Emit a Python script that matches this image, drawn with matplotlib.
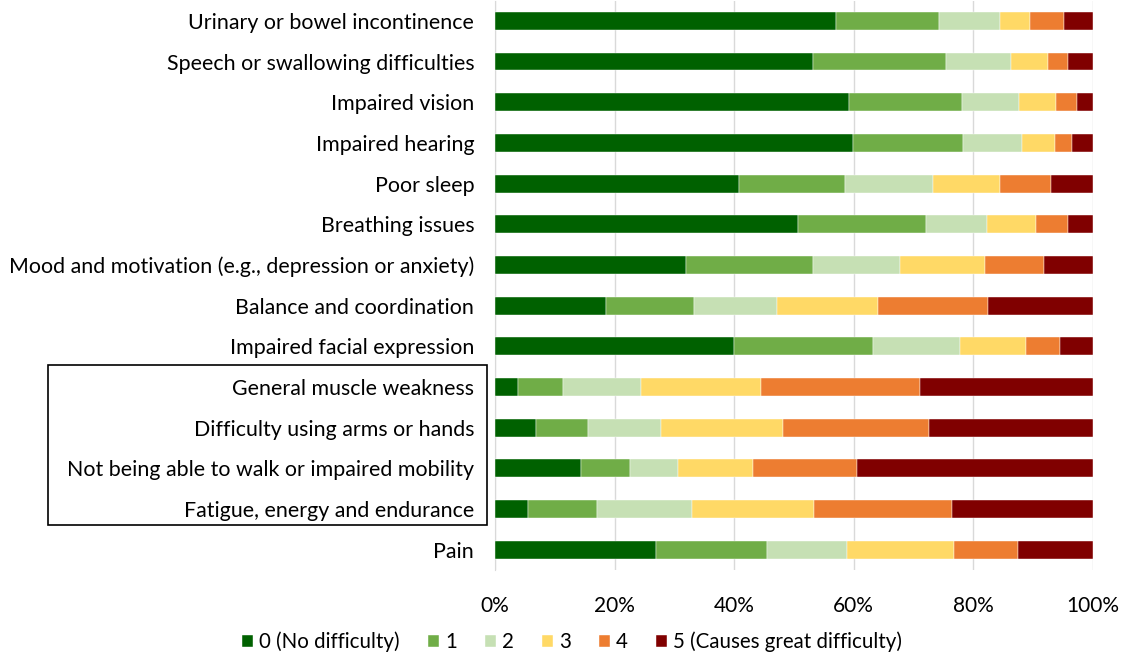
import numpy as np
import matplotlib.pyplot as plt
from matplotlib.patches import Rectangle

# -------------------- Data --------------------
categories = [
    "Urinary or bowel incontinence",
    "Speech or swallowing difficulties",
    "Impaired vision",
    "Impaired hearing",
    "Poor sleep",
    "Breathing issues",
    "Mood and motivation (e.g., depression or anxiety)",
    "Balance and coordination",
    "Impaired facial expression",
    "General muscle weakness",
    "Difficulty using arms or hands",
    "Not being able to walk or impaired mobility",
    "Fatigue, energy and endurance",
    "Pain",
]

level_0 = [57.0, 53.1, 59.2, 59.9, 40.8, 50.7, 32.0, 18.5, 40.0, 3.8, 6.8, 14.4, 5.6, 26.9]
level_1 = [17.2, 22.3, 18.9, 18.4, 17.8, 21.4, 21.1, 14.8, 23.2, 7.6, 8.8, 8.2, 11.5, 18.6]
level_2 = [10.3, 10.9, 9.6, 9.9, 14.6, 10.1, 14.6, 13.8, 14.5, 13.0, 12.2, 8.0, 15.8, 13.3]
level_3 = [4.9, 6.1, 6.1, 5.4, 11.3, 8.3, 14.2, 16.9, 11.1, 20.1, 20.3, 12.6, 20.5, 18.0]
level_4 = [5.7, 3.4, 3.6, 2.9, 8.4, 5.4, 9.9, 18.5, 5.6, 26.5, 24.4, 17.4, 23.1, 10.7]
level_5 = [4.9, 4.2, 2.6, 3.5, 7.1, 4.1, 8.2, 17.5, 5.6, 29.0, 27.5, 39.4, 23.5, 12.5]

level_labels = ["0 (No difficulty)", "1", "2", "3", "4", "5 (Causes great difficulty)"]
colors = ["#006100", "#70AD47", "#C6E0B4", "#FFD966", "#ED7D31", "#800000"]

plt.rcParams['font.family'] = ['Lato', 'DejaVu Sans']

# -------------------- Plot --------------------
fig = plt.figure(figsize=(11.26, 6.58), dpi=100)
ax = fig.add_axes([0.4396, 0.1337, 0.5311, 0.8655])

levels = [level_0, level_1, level_2, level_3, level_4, level_5]
y = np.arange(len(categories))
left = np.zeros(len(categories))
for vals, lab, col in zip(levels, level_labels, colors):
    vals = np.array(vals)
    ax.barh(y, vals, left=left, height=0.44, color=col, label=lab,
            edgecolor='white', linewidth=0.3, zorder=3)
    left += vals

ax.set_ylim(len(categories) - 0.5, -0.5)
ax.set_xlim(0, 100)
ax.set_yticks(y)
ax.set_yticklabels(categories, fontsize=15.4)
ax.set_xticks([0, 20, 40, 60, 80, 100])
ax.set_xticklabels([f"{v}%" for v in [0, 20, 40, 60, 80, 100]], fontsize=15)
ax.tick_params(axis='both', length=0)
ax.tick_params(axis='y', pad=15)
ax.tick_params(axis='x', pad=19)
ax.grid(axis='x', color='#d9d9d9', linewidth=1, zorder=0)
for s in ['top', 'right', 'bottom']:
    ax.spines[s].set_visible(False)
ax.spines['left'].set_color('#d9d9d9')

# box round the four mobility labels
fig.patches.append(Rectangle((48 / 1126, 1 - 525 / 658), (487 - 48) / 1126, (525 - 365) / 658,
                             transform=fig.transFigure, fill=False,
                             edgecolor='black', linewidth=1.2))

leg = fig.legend(loc='center', bbox_to_anchor=(0.508, 1 - 642 / 658), ncol=6,
                 frameon=False, fontsize=14.8, handlelength=0.55, handleheight=0.55,
                 handletextpad=0.3, columnspacing=1.35)

fig.savefig("out.png", dpi=100)
